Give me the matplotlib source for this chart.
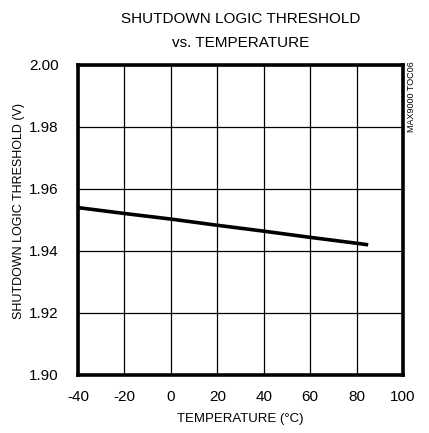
import numpy as np
import matplotlib
matplotlib.use("Agg")
import matplotlib.pyplot as plt

plt.rcParams['font.family'] = ['Liberation Sans', 'DejaVu Sans']
plt.rcParams['axes.unicode_minus'] = False

temp = [-40, -20, 0, 20, 40, 60, 80, 85]
vth = [1.9540, 1.9521, 1.9503, 1.9483, 1.9464, 1.9444, 1.9425, 1.9420]

xticks = [-40, -20, 0, 20, 40, 60, 80, 100]
yticks = [1.90, 1.92, 1.94, 1.96, 1.98, 2.00]

fig = plt.figure(figsize=(4.29, 4.33), dpi=100)
ax = fig.add_axes([78/429, 1 - 375/433, 325/429, 310/433])

ax.plot(temp, vth, color='black', lw=2.6, solid_capstyle='butt', zorder=3)
ax.set_xlim(-40, 100)
ax.set_ylim(1.90, 2.00)
ax.set_xticks(xticks)
ax.set_yticks(yticks)
ax.set_yticklabels([f"{v:.2f}" for v in yticks])
ax.grid(True, color='black', lw=0.9)
ax.tick_params(axis='x', length=0, labelsize=11, pad=11)
ax.tick_params(axis='y', length=0, labelsize=11, pad=14)
for s in ax.spines.values():
    s.set_linewidth(2.6)

ax.set_xlabel("TEMPERATURE (°C)", fontsize=9.5, labelpad=6)
fig.text(19/429, 1 - 211/433, "SHUTDOWN LOGIC THRESHOLD (V)", rotation=90,
         ha='center', va='center', fontsize=9)
fig.text(241/429, 1 - 19/433, "SHUTDOWN LOGIC THRESHOLD", ha='center', va='center', fontsize=11)
fig.text(241/429, 1 - 43/433, "vs. TEMPERATURE", ha='center', va='center', fontsize=11)
fig.text(412/429, 1 - 97/433, "MAX9000 TOC06", rotation=90, ha='center', va='center', fontsize=6.5)

fig.savefig("out.png", dpi=100)
